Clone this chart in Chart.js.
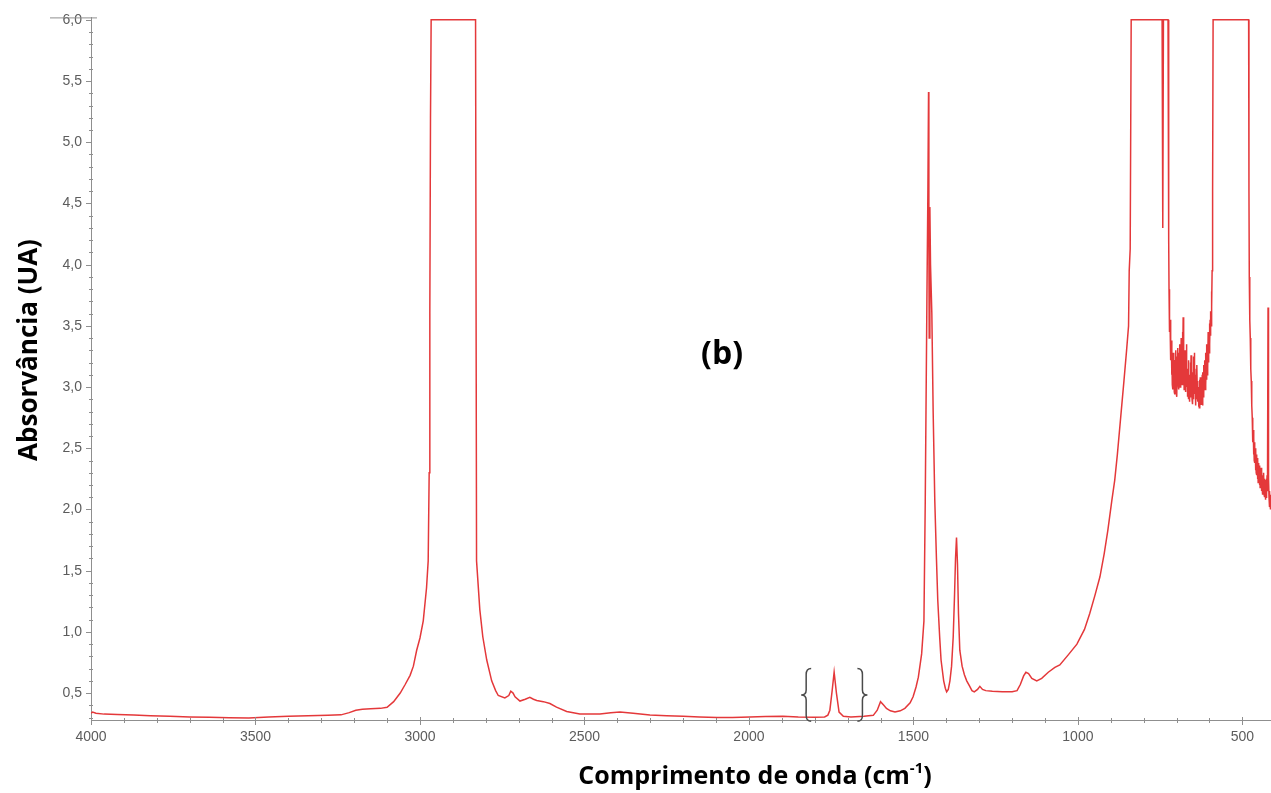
<!DOCTYPE html>
<html lang="pt">
<head>
<meta charset="utf-8">
<title>Espectro FTIR (b)</title>
<script src="https://cdn.jsdelivr.net/npm/chart.js@4/dist/chart.umd.min.js"></script>
<style>
  html, body { margin: 0; padding: 0; background: #ffffff; }
  #wrap { width: 1271px; height: 793px; }
  canvas { display: block; }
</style>
</head>
<body>
<div id="wrap"><canvas id="spectrum" width="1271" height="793"></canvas></div>
<script>
// Wavenumber (cm-1) of each sampled point, high to low
const wavenumbers = [
  // baseline 4000-3100
  4000, 3995, 3985, 3960, 3920, 3870, 3820, 3760, 3700, 3640, 3580, 3520, 3460, 3400, 3340, 3280, 3240, 3215, 3195, 3175, 3150, 3120, 3100,
  // C-H stretching band (saturated)
  3080, 3060, 3045, 3030, 3020, 3010, 3000, 2990, 2980, 2975, 2972, 2970, 2968, 2966, 2930, 2880, 2831,
  // tail 2830-1900
  2828, 2818, 2809, 2797, 2782, 2770, 2762, 2742, 2730, 2724, 2717, 2711, 2696, 2680, 2666, 2655, 2645, 2625, 2605, 2585, 2554, 2514, 2453, 2420, 2392, 2352, 2301, 2250, 2200, 2150, 2097, 2050, 1997, 1950, 1897,
  // carbonyl region
  1850, 1800, 1770, 1760, 1754, 1747, 1741, 1734, 1726, 1713, 1690, 1650, 1622, 1610, 1600, 1590, 1582, 1570, 1556, 1540, 1526, 1510, 1501, 1492, 1485, 1475, 1468,
  // CH2 / CH3 bending and fingerprint rise
  1464, 1459, 1456, 1454, 1453, 1452, 1450, 1448, 1444, 1440, 1435, 1430, 1426, 1420, 1416, 1408, 1403, 1399, 1394, 1389, 1384, 1379, 1375, 1372, 1369, 1366, 1363, 1359, 1352, 1345, 1338, 1330, 1322, 1315, 1305, 1298, 1290, 1280, 1260, 1230, 1200, 1185, 1175, 1165, 1158, 1150, 1140, 1125, 1110, 1090, 1070, 1055, 1030, 1003, 980, 964, 948, 933, 920, 909, 897, 888, 880, 870, 860, 852, 846, 844, 841, 838,
  // saturated band with dip
  800, 760, 744, 742, 740, 734, 728,
  // noisy region 726-589
  726, 724, 723,
  722, 721, 720, 719, 718, 717, 716, 715, 714, 713, 712, 711, 710, 709, 708, 707, 706, 705, 704, 703, 702, 701,
  700, 699, 698, 697, 696, 695, 694, 693, 692, 691, 690, 689, 688, 687, 686, 685, 684, 683, 682, 681,
  680, 679, 678, 677, 676, 675, 674, 673, 672, 671, 670, 669, 668, 667, 666, 665, 664, 663, 662, 661,
  660, 659, 658, 657, 656, 655, 654, 653, 652, 651, 650, 649, 648, 647, 646, 645, 644, 643, 642, 641,
  640, 639, 638, 637, 636, 635, 634, 633, 632, 631, 630, 629, 628, 627, 626, 625, 624, 623, 622, 621,
  620, 619, 618, 617, 616, 615, 614, 613, 612, 611, 610, 609, 608, 607, 606, 605, 604, 603, 602, 601,
  600, 599, 598, 597, 596, 595, 594, 593, 592, 591, 590, 589,
  // saturated band 589-481
  560, 520, 481,
  // low-wavenumber end
  480, 479, 478, 477, 476, 475, 474, 473, 472, 471, 470, 469, 468, 467, 466, 465, 464, 463, 462, 461,
  460, 459, 458, 457, 456, 455, 454, 453, 452, 451, 450, 449, 448, 447, 446, 445, 444, 443, 442, 441,
  440, 439, 438, 437, 436, 435, 434, 433, 432, 431, 430, 429, 428, 427, 426, 425, 424, 423, 422, 421,
  420, 419, 418, 417, 416, 415, 414, 413
];

// Absorbance (UA) at each wavenumber above
const absorbance = [
  0.335, 0.345, 0.335, 0.328, 0.325, 0.32, 0.315, 0.31, 0.305, 0.302, 0.298, 0.296, 0.305, 0.31, 0.315, 0.318, 0.322, 0.34, 0.36, 0.368, 0.372, 0.375, 0.384,
  0.43, 0.50, 0.57, 0.645, 0.72, 0.85, 0.95, 1.09, 1.36, 1.58, 2.3, 3.6, 5.2, 6.0, 6.0, 6.0, 6.0,
  1.58, 1.18, 0.96, 0.77, 0.60, 0.52, 0.48, 0.46, 0.48, 0.515, 0.50, 0.47, 0.435, 0.45, 0.465, 0.45, 0.44, 0.43, 0.415, 0.385, 0.35, 0.33, 0.33, 0.34, 0.345, 0.335, 0.32, 0.315, 0.31, 0.305, 0.30, 0.30, 0.305, 0.308, 0.31,
  0.305, 0.303, 0.305, 0.32, 0.36, 0.52, 0.67, 0.50, 0.345, 0.31, 0.305, 0.31, 0.318, 0.36, 0.43, 0.40, 0.375, 0.355, 0.345, 0.355, 0.375, 0.42, 0.47, 0.55, 0.63, 0.82, 1.09,
  2.07, 3.7, 4.6, 5.41, 4.2, 3.4, 4.47, 4.0, 3.6, 2.8, 2.07, 1.6, 1.26, 0.95, 0.77, 0.6, 0.54, 0.51, 0.53, 0.6, 0.72, 0.96, 1.3, 1.6, 1.77, 1.55, 1.15, 0.85, 0.72, 0.65, 0.6, 0.56, 0.52, 0.51, 0.53, 0.555, 0.53, 0.52, 0.515, 0.51, 0.51, 0.52, 0.57, 0.64, 0.67, 0.66, 0.62, 0.60, 0.62, 0.67, 0.71, 0.73, 0.81, 0.90, 1.02, 1.15, 1.30, 1.45, 1.64, 1.83, 2.07, 2.24, 2.45, 2.75, 3.05, 3.3, 3.5, 3.95, 4.13, 6.0,
  6.0, 6.0, 6.0, 4.3, 6.0, 6.0, 6.0,
  6.0, 4.2, 3.8,
  3.65, 3.45, 3.55, 3.30, 3.48, 3.22, 3.38, 3.10, 3.30, 3.02, 3.25, 2.98, 3.28, 3.05, 3.20, 2.96, 3.15, 2.94, 3.22, 3.00, 3.30, 2.95,
  3.18, 2.92, 3.25, 3.05, 3.32, 3.02, 3.20, 2.98, 3.28, 3.06, 3.35, 3.00, 3.22, 3.08, 3.40, 3.10, 3.30, 3.02, 3.45, 3.15,
  3.57, 3.10, 3.25, 2.98, 3.20, 3.00, 3.30, 2.96, 3.18, 3.05, 3.35, 3.00, 3.15, 2.92, 3.12, 2.95, 3.22, 2.90, 3.10, 2.88,
  3.05, 2.92, 3.20, 2.95, 3.26, 2.98, 3.15, 2.90, 3.05, 2.86, 3.12, 2.90, 3.25, 2.95, 3.28, 3.00, 3.10, 2.86, 3.02, 2.85,
  3.15, 2.90, 3.18, 2.94, 3.05, 2.88, 3.00, 2.84, 2.98, 2.83, 3.06, 2.86, 3.08, 2.90, 3.00, 2.86, 3.05, 2.88, 3.10, 2.85,
  3.12, 2.92, 3.18, 2.95, 3.12, 3.00, 3.22, 2.98, 3.28, 3.02, 3.20, 3.06, 3.35, 3.10, 3.30, 3.15, 3.45, 3.20, 3.40, 3.28,
  3.52, 3.35, 3.55, 3.42, 3.62, 3.50, 3.78, 3.65, 3.95, 4.2, 4.6, 6.0,
  6.0, 6.0, 6.0,
  4.6, 3.9, 3.7, 3.55, 3.4, 3.3, 3.15, 3.05, 2.95, 2.85, 2.75, 2.68, 2.55, 2.65, 2.45, 2.58, 2.40, 2.55, 2.38, 2.50,
  2.32, 2.48, 2.30, 2.45, 2.28, 2.42, 2.25, 2.40, 2.22, 2.38, 2.25, 2.35, 2.20, 2.36, 2.18, 2.32, 2.20, 2.34, 2.15, 2.30,
  2.18, 2.28, 2.12, 2.27, 2.15, 2.30, 2.12, 2.25, 2.10, 2.24, 2.08, 2.22, 2.10, 2.25, 2.12, 2.28, 2.15, 2.35, 3.65, 2.9,
  2.25, 2.10, 2.02, 2.15, 2.05, 2.12, 2.0, 2.08
];

// Axis tick labels
const xTickValues = [4000, 3500, 3000, 2500, 2000, 1500, 1000, 500];
const yTickValues = [0.5, 1.0, 1.5, 2.0, 2.5, 3.0, 3.5, 4.0, 4.5, 5.0, 5.5, 6.0];

// Texts
const xTitleMain = 'Comprimento de onda (cm';
const xTitleSup = '-1';
const xTitleEnd = ')';
const yTitle = 'Absorvância (UA)';
const panelLabel = '(b)';

// Range bracketed around the carbonyl band (cm-1, UA)
const bracketLeftWn = 1826;
const bracketRightWn = 1655;
const bracketTopA = 0.70;
const bracketBottomA = 0.27;

const X_MIN = 413, X_MAX = 4000;
const Y_MIN = 0.28, Y_MAX = 6.02;

const tickFont = { family: "'Liberation Sans Narrow', 'Liberation Sans', Arial, sans-serif", size: 14 };
const tickColor = '#5c5c5c';
const axisColor = '#8f8f8f';
const titleFamily = "'Open Sans', 'Noto Sans', sans-serif";

// Minor ticks, titles, panel label and brackets
const decorations = {
  id: 'decorations',
  afterDraw(chart) {
    const { ctx, chartArea, scales } = chart;
    const xs = scales.x, ys = scales.y;
    ctx.save();

    // y axis minor/major tick marks (every 0.1, major every 0.5)
    ctx.strokeStyle = axisColor;
    ctx.lineWidth = 1;
    for (let k = 3; k <= 60; k++) {
      const y = Math.round(ys.getPixelForValue(k / 10)) + 0.5;
      ctx.beginPath();
      if (k % 5 === 0) { ctx.moveTo(chartArea.left - 5, y); ctx.lineTo(chartArea.left, y); }
      else { ctx.moveTo(chartArea.left - 2, y); ctx.lineTo(chartArea.left + 2, y); }
      ctx.stroke();
    }
    // x axis minor/major tick marks (every 100, major every 500)
    for (let w = 500; w <= 4000; w += 100) {
      const x = Math.round(xs.getPixelForValue(w)) + 0.5;
      ctx.beginPath();
      if (w % 500 === 0) { ctx.moveTo(x, chartArea.bottom - 3); ctx.lineTo(x, chartArea.bottom + 5); }
      else { ctx.moveTo(x, chartArea.bottom - 2); ctx.lineTo(x, chartArea.bottom + 3); }
      ctx.stroke();
    }
    // short top line at the axis end
    ctx.beginPath();
    ctx.moveTo(chartArea.left - 41, chartArea.top + 0.5);
    ctx.lineTo(chartArea.left + 6, chartArea.top + 0.5);
    ctx.stroke();

    // brackets around the carbonyl band
    ctx.strokeStyle = '#4a4a4a';
    ctx.lineWidth = 1.5;
    const drawBrace = (xc, dir) => {
      const yt = ys.getPixelForValue(bracketTopA);
      const yb = ys.getPixelForValue(bracketBottomA);
      const ym = (yt + yb) / 2;
      const w = 5;
      ctx.beginPath();
      ctx.moveTo(xc + dir * w, yt);
      ctx.quadraticCurveTo(xc, yt, xc, yt + 6);
      ctx.lineTo(xc, ym - 5);
      ctx.quadraticCurveTo(xc, ym, xc - dir * w, ym);
      ctx.quadraticCurveTo(xc, ym, xc, ym + 5);
      ctx.lineTo(xc, yb - 6);
      ctx.quadraticCurveTo(xc, yb, xc + dir * w, yb);
      ctx.stroke();
    };
    drawBrace(xs.getPixelForValue(bracketLeftWn), 1);
    drawBrace(xs.getPixelForValue(bracketRightWn), -1);

    // y axis title
    ctx.fillStyle = '#000000';
    ctx.font = 'bold 26px ' + titleFamily;
    ctx.save();
    ctx.translate(30, 350);
    ctx.rotate(-Math.PI / 2);
    ctx.textAlign = 'center';
    ctx.textBaseline = 'middle';
    ctx.fillText(yTitle, 0, 0);
    ctx.restore();

    // x axis title with superscript
    const mainFont = 'bold 25px ' + titleFamily;
    const supFont = 'bold 15px ' + titleFamily;
    ctx.font = mainFont;
    const wMain = ctx.measureText(xTitleMain).width;
    const wEnd = ctx.measureText(xTitleEnd).width;
    ctx.font = supFont;
    const wSup = ctx.measureText(xTitleSup).width;
    const total = wMain + wSup + wEnd;
    const x0 = 755 - total / 2;
    const base = 784;
    ctx.textAlign = 'left';
    ctx.textBaseline = 'alphabetic';
    ctx.font = mainFont;
    ctx.fillText(xTitleMain, x0, base);
    ctx.font = supFont;
    ctx.fillText(xTitleSup, x0 + wMain, base - 11);
    ctx.font = mainFont;
    ctx.fillText(xTitleEnd, x0 + wMain + wSup, base);

    // panel label
    ctx.font = 'bold 32px ' + titleFamily;
    ctx.textAlign = 'center';
    ctx.fillText(panelLabel, 722, 364);

    ctx.restore();
  }
};

const points = wavenumbers.map((w, i) => ({ x: w, y: absorbance[i] }));

new Chart(document.getElementById('spectrum'), {
  type: 'line',
  data: {
    datasets: [{
      data: points,
      borderColor: '#e4383a',
      borderWidth: 1.5,
      pointRadius: 0,
      tension: 0,
      fill: false
    }]
  },
  options: {
    responsive: false,
    animation: false,
    events: [],
    layout: { padding: { top: 17, right: 0, left: 0, bottom: 0 } },
    plugins: { legend: { display: false }, tooltip: { enabled: false } },
    scales: {
      x: {
        type: 'linear',
        reverse: true,
        min: X_MIN,
        max: X_MAX,
        afterBuildTicks: s => { s.ticks = xTickValues.map(v => ({ value: v })); },
        afterFit: s => { s.height = 73; },
        ticks: {
          autoSkip: false, maxRotation: 0, minRotation: 0,
          padding: 9, color: tickColor, font: tickFont,
          callback: v => String(v)
        },
        grid: { display: false, drawTicks: false },
        border: { display: true, color: axisColor, width: 1 }
      },
      y: {
        type: 'linear',
        min: Y_MIN,
        max: Y_MAX,
        afterBuildTicks: s => { s.ticks = yTickValues.map(v => ({ value: v })); },
        afterFit: s => { s.width = 91; },
        ticks: {
          autoSkip: false, padding: 9, color: tickColor, font: tickFont,
          callback: v => Number(v).toFixed(1).replace('.', ',')
        },
        grid: { display: false, drawTicks: false },
        border: { display: true, color: axisColor, width: 1 }
      }
    }
  },
  plugins: [decorations]
});
</script>
</body>
</html>
